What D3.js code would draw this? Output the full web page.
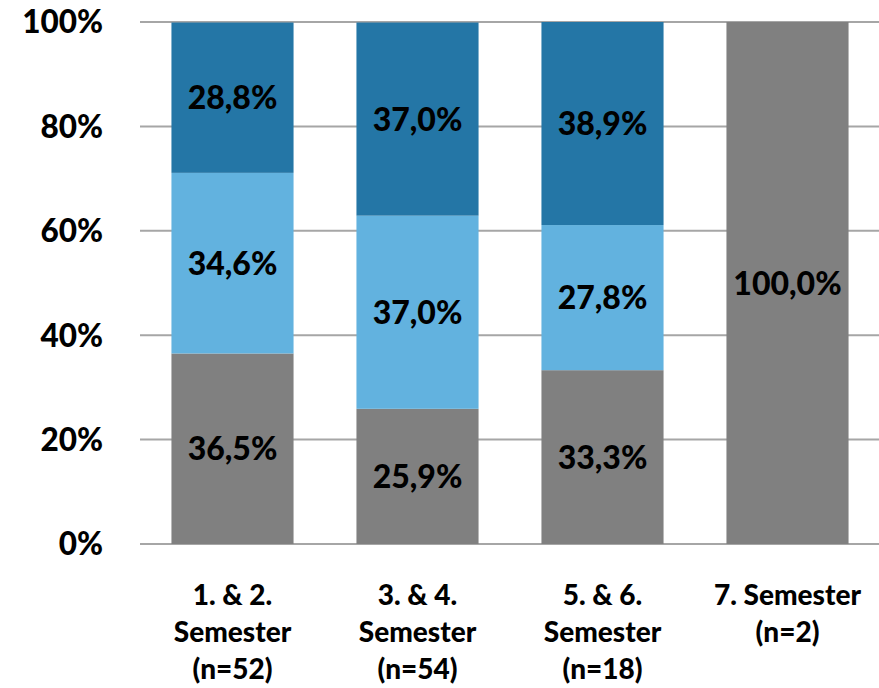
<!DOCTYPE html>
<html><head><meta charset="utf-8">
<script src="https://cdn.jsdelivr.net/npm/d3@7"></script>
<style>body{margin:0;background:#fff;} svg{display:block;}</style>
</head><body>
<script>
const categories = [["1. & 2.","Semester","(n=52)"],["3. & 4.","Semester","(n=54)"],["5. & 6.","Semester","(n=18)"],["7. Semester","(n=2)"]];
const catKeys = ["c1","c2","c3","c4"];
const seriesNames = ["gray","light","dark"];
const grayValues = [36.5, 25.9, 33.3, 100.0];
const lightValues = [34.6, 37.0, 27.8, 0];
const darkValues = [28.8, 37.0, 38.9, 0];
const yTicks = [0,20,40,60,80,100];
const colors = ["#808080","#62b2df","#2476a6"];

const W=879,H=688;
const svg=d3.select("body").append("svg").attr("width",W).attr("height",H);
const font="Lato, 'Open Sans', sans-serif";
const x=d3.scaleBand().domain(catKeys).range([140,880]).paddingInner(0.34).paddingOuter(0.17);
const y=d3.scaleLinear().domain([0,100]).range([544,22]);

svg.append("g").selectAll("line").data(yTicks).join("line")
 .attr("x1",140).attr("x2",879).attr("y1",d=>y(d)).attr("y2",d=>y(d))
 .attr("stroke","#a6a6a6").attr("stroke-width",2);

svg.append("g").selectAll("text").data(yTicks).join("text")
 .attr("x",103).attr("y",d=>y(d)).attr("dy","0.36em").attr("text-anchor","end")
 .attr("font-family",font).attr("font-weight","900").attr("font-size",31.5).attr("fill","#000")
 .text(d=>d+"%");

const table=catKeys.map((k,i)=>({key:k,gray:grayValues[i],light:lightValues[i],dark:darkValues[i]}));
const stack=d3.stack().keys(seriesNames)(table);
const g=svg.append("g");
stack.forEach((s,si)=>{
  g.append("g").selectAll("rect").data(s).join("rect")
   .attr("x",d=>x(d.data.key)).attr("width",x.bandwidth())
   .attr("y",d=>y(d[1])).attr("height",d=>y(d[0])-y(d[1]))
   .attr("fill",colors[si]);
  g.append("g").selectAll("text").data(s.filter(d=>d[1]-d[0]>0)).join("text")
   .attr("x",d=>x(d.data.key)+x.bandwidth()/2).attr("y",d=>y((d[0]+d[1])/2)).attr("dy","0.36em")
   .attr("text-anchor","middle").attr("font-family",font).attr("font-weight","900").attr("font-size",32).attr("fill","#000")
   .text(d=>(d[1]-d[0]).toFixed(1).replace(".",",")+"%");
});

const cl=svg.append("g").selectAll("text").data(categories).join("text")
 .attr("x",(d,i)=>x(catKeys[i])+x.bandwidth()/2).attr("y",605)
 .attr("text-anchor","middle").attr("font-family",font).attr("font-weight","900").attr("font-size",28).attr("fill","#000");
cl.selectAll("tspan").data(d=>d).join("tspan")
 .attr("x",function(){return d3.select(this.parentNode).attr("x");})
 .attr("dy",(d,i)=>i===0?0:37).text(d=>d);
</script>
</body></html>
